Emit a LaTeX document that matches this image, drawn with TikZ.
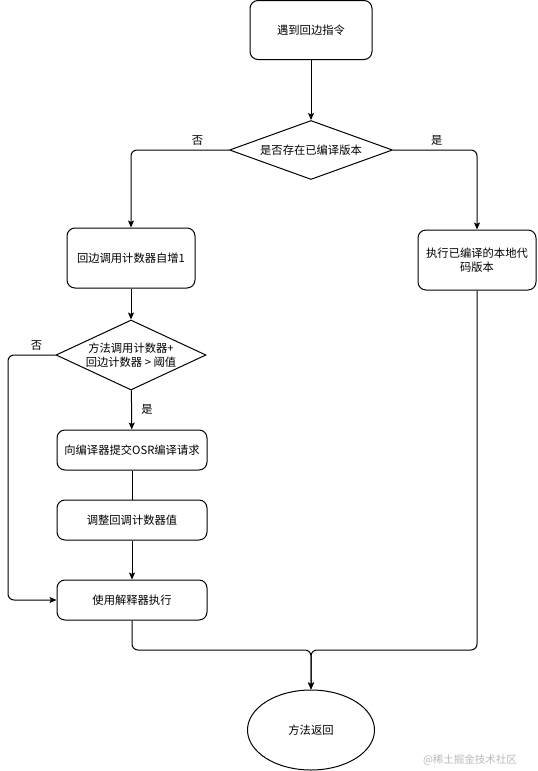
\documentclass[tikz,border=0pt]{standalone}
\usepackage{fontspec}
\setmainfont{Noto Sans CJK SC}
\usetikzlibrary{shapes.geometric,arrows.meta}

\begin{document}
\begin{tikzpicture}[x=1pt, y=-1pt, line width=1pt,
                    font=\fontsize{11.3}{14}\selectfont,
                    box/.style={rectangle, rounded corners=8pt, draw, align=center, inner sep=1pt},
                    decision/.style={diamond, draw, align=center, inner sep=0pt},
                    terminal/.style={ellipse, draw, minimum width=127pt, minimum height=80pt},
                    arrow/.style={-{Stealth[length=7pt, width=6pt, inset=1.5pt]}}]
        \useasboundingbox (0,0) rectangle (538,771);

        % Define nodes of the main flow
        \node[box, minimum width=122pt, minimum height=59pt] (start) at (311,30) {遇到回边指令};
        \node[decision, aspect=2.76, minimum width=163pt, minimum height=59pt] (exists) at (311,150) {是否存在已编译版本};
        \node[box, minimum width=128pt, minimum height=60pt] (incr) at (131,258) {回边调用计数器自增1};
        \node[box, minimum width=118pt, minimum height=60pt] (exec) at (477,260) {执行已编译的本地代\\码版本};
        \node[decision, aspect=2.14, minimum width=150pt, minimum height=70pt] (thresh) at (131,355) {方法调用计数器+\\回边计数器 > 阈值};
        \node[box, minimum width=150pt, minimum height=40pt] (osr) at (132,450) {向编译器提交OSR编译请求};
        \node[box, minimum width=150pt, minimum height=40pt] (adjust) at (132,520) {调整回调计数器值};
        \node[box, minimum width=150pt, minimum height=40pt] (interp) at (132,600) {使用解释器执行};
        \node[terminal] (ret) at (311,730) {方法返回};
        \node[text=gray!55, font=\fontsize{10.5}{12}\selectfont] (mark) at (470,760) {@稀土掘金技术社区};

        % Define connections
        \draw[arrow] (start) -- (exists);
        \draw[arrow, rounded corners=6pt] (exists.west) -| (incr.north) node[pos=0.16, above=1pt] {否};
        \draw[arrow, rounded corners=6pt] (exists.east) -| (exec.north) node[pos=0.26, above=1pt] {是};
        \draw[arrow] (incr) -- (thresh);
        \draw[arrow] (thresh) -- (osr) node[midway, right=6pt] {是};
        \draw (osr) -- (adjust);
        \draw[arrow] (adjust) -- (interp);
        \draw[arrow, rounded corners=6pt] (thresh.west) -- (8,355) node[pos=0.4, above=1pt] {否} |- (interp.west);

        % Merge both branches before the return
        \coordinate (merge) at (311,650);
        \draw[arrow, rounded corners=6pt] (interp.south) |- (merge) -- (ret.north);
        \draw[arrow, rounded corners=6pt] (exec.south) |- (merge) -- (ret.north);

    \end{tikzpicture}
\end{document}
